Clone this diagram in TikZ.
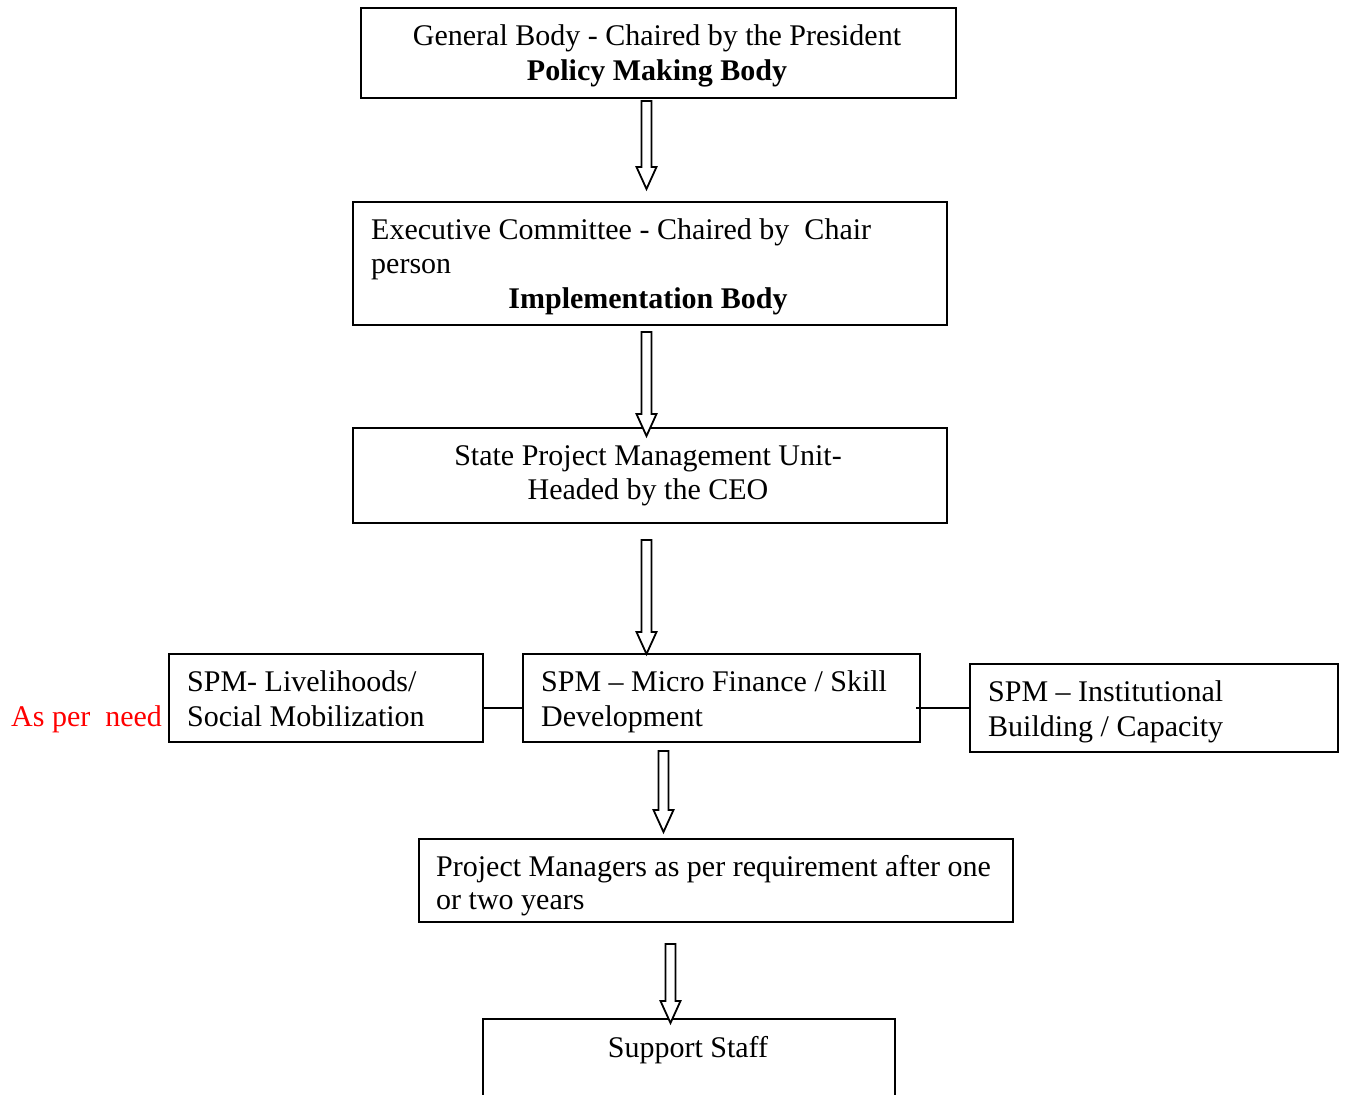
\documentclass[tikz,border=0pt]{standalone}
\usepackage{fontspec}
\setmainfont{Liberation Serif}
\usetikzlibrary{calc}
\begin{document}
\begin{tikzpicture}[x=1pt,y=-1pt,
  box/.style={draw, line width=2pt, rectangle, inner sep=0pt},
  txt/.style={inner sep=0pt, font=\fontsize{30}{35}\selectfont},
  link/.style={line width=1.8pt},
  blockarr/.style={draw, line width=1.8pt, line join=miter, fill=white}]
\useasboundingbox (0,0) rectangle (1345,1095);
\clip (0,0) rectangle (1345,1095);
\newcommand{\blockarrow}[2]{%
  \path[blockarr] let \p1=(#1), \p2=(#2) in
    ({\x1-5pt},\y1) -- ({\x1-5pt},{\y2+22pt}) -- ({\x1-10pt},{\y2+22pt}) -- (\x2,\y2)
    -- ({\x1+10pt},{\y2+22pt}) -- ({\x1+5pt},{\y2+22pt}) -- ({\x1+5pt},\y1) -- cycle;}
% boxes
\node[box, minimum width=595, minimum height=90, anchor=north west] (gb) at (359.5,6.5) {};
\node[box, minimum width=594, minimum height=123, anchor=north west] (ec) at (351.5,200.5) {};
\node[box, minimum width=594, minimum height=95, anchor=north west] (pmu) at (351.5,426.5) {};
\node[box, minimum width=314, minimum height=88, anchor=north west] (liv) at (167.5,652.5) {};
\node[box, minimum width=397, minimum height=88, anchor=north west] (mf) at (521.5,652.5) {};
\node[box, minimum width=368, minimum height=88, anchor=north west] (ib) at (968.5,662.5) {};
\node[box, minimum width=594, minimum height=83, anchor=north west] (pm) at (417.5,837.5) {};
\node[box, minimum width=412, minimum height=110, anchor=north west] (ss) at (481.5,1017.5) {};
% texts
\node[txt, anchor=base] (gbt1) at (657,45) {General Body - Chaired by the President};
\node[txt, anchor=base] (gbt2) at (657,80) {\bfseries Policy Making Body};
\node[txt, anchor=base west] (ect1) at (371,239) {Executive Committee - Chaired by\ \ Chair};
\node[txt, anchor=base west] (ect2) at (371,273) {person};
\node[txt, anchor=base] (ect3) at (648,308) {\bfseries Implementation Body};
\node[txt, anchor=base] (pmut1) at (648,465) {State Project Management Unit-};
\node[txt, anchor=base] (pmut2) at (648,499) {Headed by the CEO};
\node[txt, anchor=base west] (livt1) at (187,691) {SPM- Livelihoods/};
\node[txt, anchor=base west] (livt2) at (187,726) {Social Mobilization};
\node[txt, anchor=base west] (mft1) at (541,691) {SPM -- Micro Finance / Skill};
\node[txt, anchor=base west] (mft2) at (541,726) {Development};
\node[txt, anchor=base west] (ibt1) at (988,701) {SPM -- Institutional};
\node[txt, anchor=base west] (ibt2) at (988,736) {Building / Capacity};
\node[txt, anchor=base west] (pmt1) at (436,876) {Project Managers as per requirement after one};
\node[txt, anchor=base west] (pmt2) at (436,909) {or two years};
\node[txt, anchor=base] (sst) at (688,1057) {Support Staff};
\node[txt, anchor=base west, text=red] (need) at (11,726) {As per\ \ need};
% side links
\draw[link] (liv.east |- 0,708) -- (mf.west |- 0,708);
\coordinate (mfr) at (916,708);
\draw[link] (mfr) -- (ib.west |- 0,708);
% block arrows
\coordinate (a1s) at (646.5,101); \coordinate (a1e) at (646.5,189);
\coordinate (a2s) at (646.5,332); \coordinate (a2e) at (646.5,436);
\coordinate (a3s) at (646.5,540); \coordinate (a3e) at (646.5,654);
\coordinate (a4s) at (663.5,751); \coordinate (a4e) at (663.5,832);
\coordinate (a5s) at (670.5,944); \coordinate (a5e) at (670.5,1023);
\blockarrow{a1s}{a1e}
\blockarrow{a2s}{a2e}
\blockarrow{a3s}{a3e}
\blockarrow{a4s}{a4e}
\blockarrow{a5s}{a5e}
\end{tikzpicture}
\end{document}
